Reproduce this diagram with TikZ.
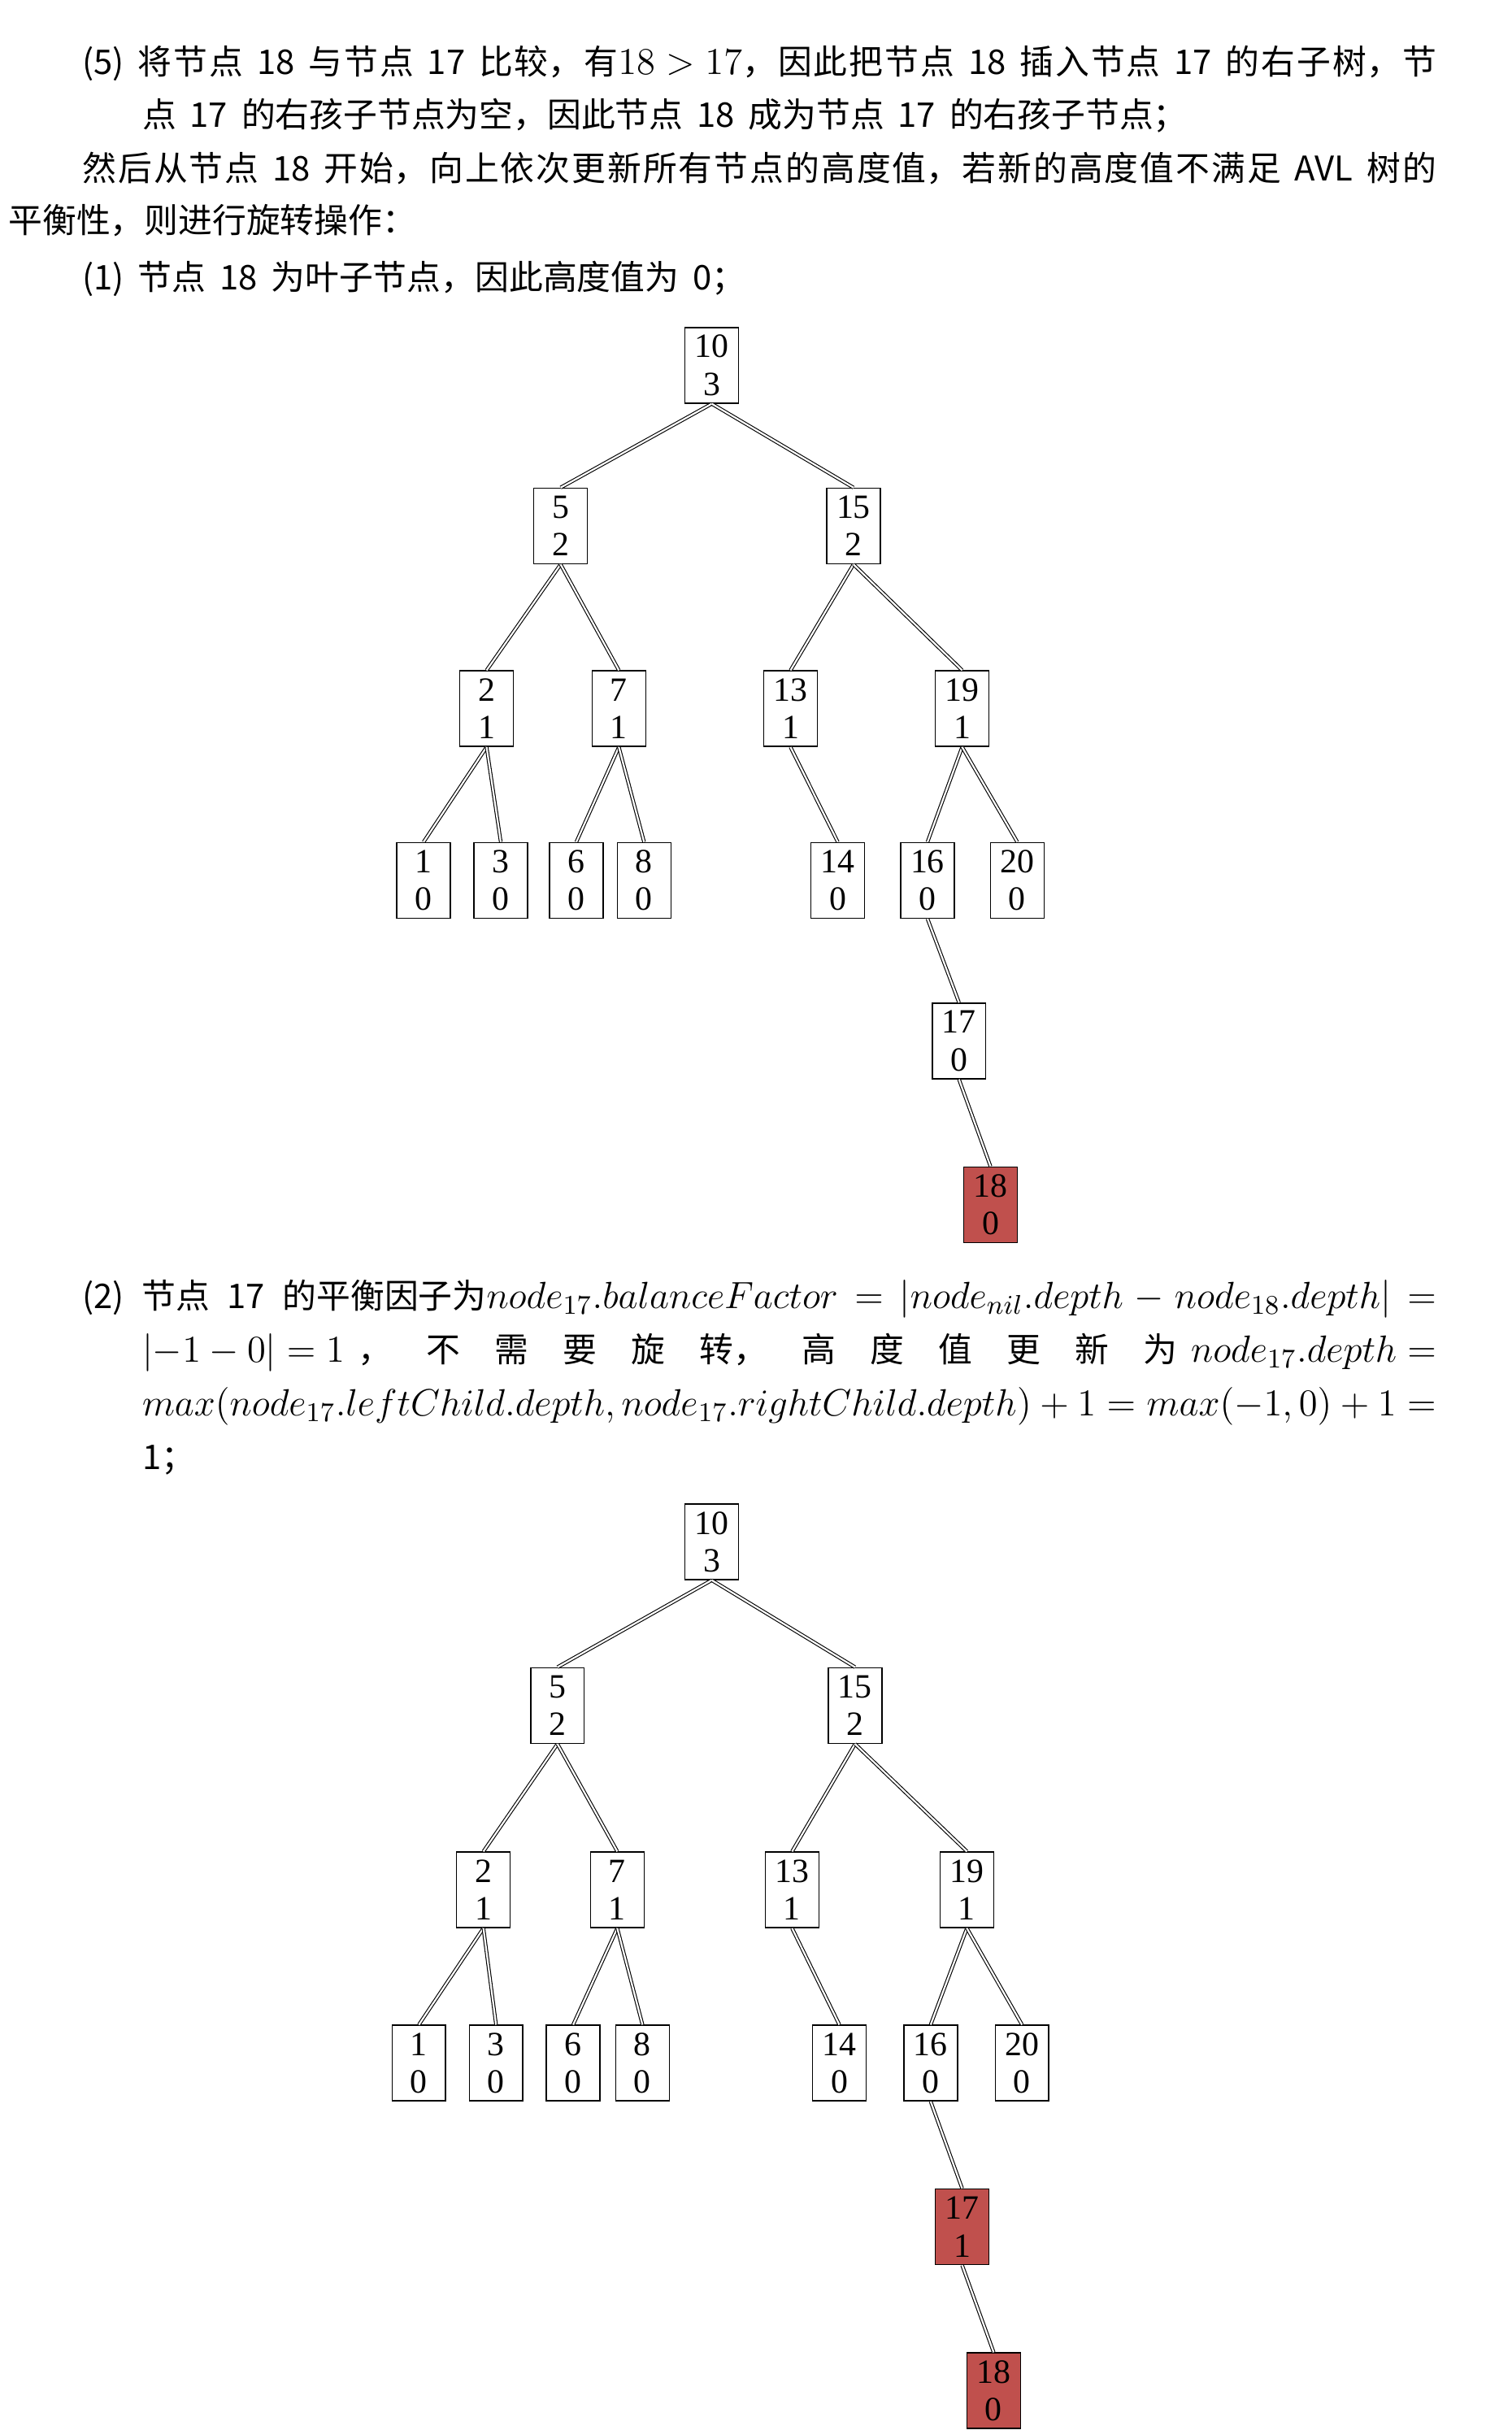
\RequirePackage{fix-cm}
\documentclass[tikz,border=0pt]{standalone}
\usepackage{amsmath}
\usepackage{fontspec}
\setmainfont{Noto Sans CJK SC}[WordSpace=1.8]
\newfontfamily\keyfont{Liberation Serif}
\usepackage{tikz}
\usetikzlibrary{positioning}
\XeTeXlinebreaklocale "zh"
\XeTeXlinebreakskip=0pt plus 1fil
\DeclareMathSizes{11.3}{12.6}{9}{7}
\definecolor{avlred}{HTML}{C0504D}
\newcommand{\spreadline}[2]{\parbox[b]{#1}{\parindent=0pt\parfillskip=0pt #2\par}}
\tikzset{x=0.184mm,y=-0.184mm}
\tikzset{txt/.style={anchor=base west,inner sep=0pt,font=\fontsize{11.3}{13}\selectfont}}
\tikzset{key/.style={draw,rectangle,line width=0.4pt,minimum width=6.26mm,minimum height=8.83mm,inner sep=0pt,align=center,font=\keyfont\fontsize{11.3}{12.5}\selectfont}}
\tikzset{newkey/.style={key,fill=avlred}}
\tikzset{link/.style={double,line width=0.3pt,double distance=0.6pt}}
\begin{document}
\begin{tikzpicture}
\useasboundingbox (0,0) rectangle (960,1543);
\node[txt] (l1) at (52,47) {\spreadline{158.2mm}{(5) 将节点 18 与节点 17 比较，有$18>17$，因此把节点 18 插入节点 17 的右子树，节}};
\node[txt] (l2) at (90,81) {点 17 的右孩子节点为空，因此节点 18 成为节点 17 的右孩子节点；};
\node[txt] (l3) at (52,115) {\spreadline{158.2mm}{然后从节点 18 开始，向上依次更新所有节点的高度值，若新的高度值不满足 AVL 树的}};
\node[txt] (l4) at (5,148) {平衡性，则进行旋转操作：};
\node[txt] (l5) at (52,184) {(1) 节点 18 为叶子节点，因此高度值为 0；};
% first tree
\foreach \k/\h/\x/\y in {10/3/452/232, 5/2/356/334, 15/2/542/334, 2/1/309/450, 7/1/393/450,
  13/1/502/450, 19/1/611/450, 1/0/269/559, 3/0/318/559, 6/0/366/559, 8/0/409/559,
  14/0/532/559, 16/0/589/559, 20/0/646/559, 17/0/609/661} {
\node[key] (a\k) at (\x,\y) {\k\\\h};
}
\node[newkey] (a18) at (629,765) {18\\0};
\foreach \p/\c in {10/5,10/15,5/2,5/7,15/13,15/19,2/1,2/3,7/6,7/8,13/14,19/16,19/20,16/17,17/18} {
\draw[link] (a\p.south) -- (a\c.north);
}
\node[txt] (l6) at (52,831) {\makebox[158.2mm][s]{(2) 节点 17 的平衡因子为$node_{17}.balanceFactor=\lvert node_{nil}.depth-node_{18}.depth\rvert=$}};
\node[txt] (l7) at (90,865) {\spreadline{151.2mm}{$\lvert -1-0\rvert=1$ ，不需要旋转，高度值更新为 $node_{17}.depth=$}};
\node[txt] (l8) at (90,899) {\makebox[151.2mm][s]{$max(node_{17}.leftChild.depth,node_{17}.rightChild.depth)+1=max(-1,0)+1=$}};
\node[txt] (l9) at (90,933) {1；};
% second tree
\foreach \k/\h/\x/\y in {10/3/452/979, 5/2/354/1083, 15/2/543/1083, 2/1/307/1200, 7/1/392/1200,
  13/1/503/1200, 19/1/614/1200, 1/0/266/1310, 3/0/315/1310, 6/0/364/1310, 8/0/408/1310,
  14/0/533/1310, 16/0/591/1310, 20/0/649/1310} {
\node[key] (b\k) at (\x,\y) {\k\\\h};
}
\node[newkey] (b17) at (611,1414) {17\\1};
\node[newkey] (b18) at (631,1518) {18\\0};
\foreach \p/\c in {10/5,10/15,5/2,5/7,15/13,15/19,2/1,2/3,7/6,7/8,13/14,19/16,19/20,16/17,17/18} {
\draw[link] (b\p.south) -- (b\c.north);
}
\end{tikzpicture}
\end{document}
